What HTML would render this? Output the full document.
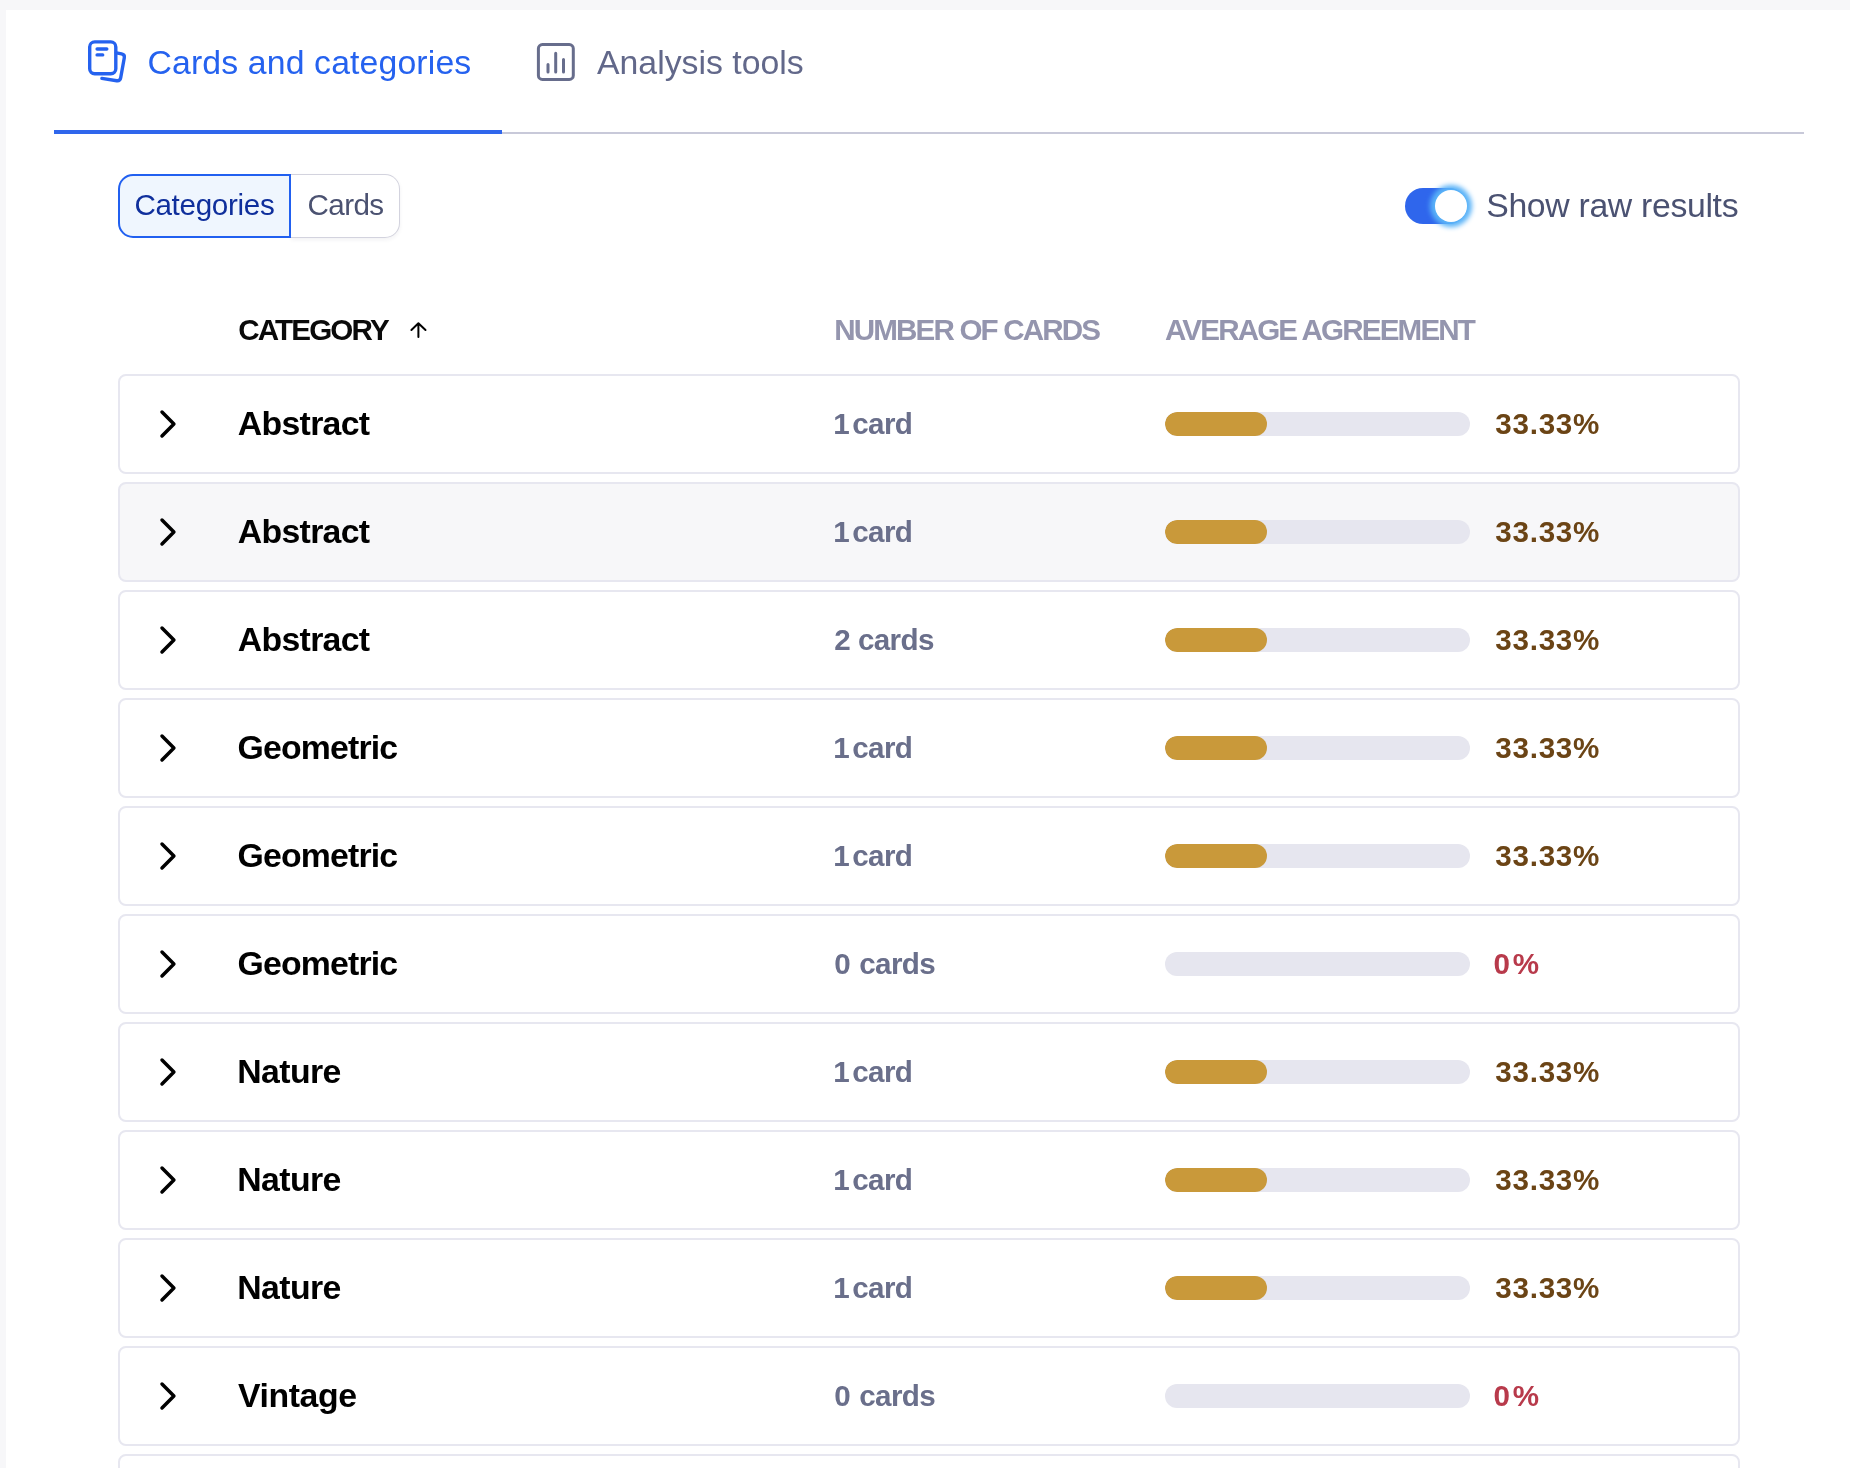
<!DOCTYPE html>
<html>
<head>
<meta charset="utf-8">
<style>
*{box-sizing:border-box;margin:0;padding:0}
html,body{width:1850px;height:1468px;overflow:hidden}
body{background:#f7f7f9;font-family:"Liberation Sans",Arial,sans-serif;position:relative}
.panel{position:absolute;left:6px;top:10px;width:1850px;height:1470px;background:#fff}
#wrap{position:absolute;left:0;top:0;width:1850px;height:1468px;will-change:transform}
.abs{position:absolute;white-space:nowrap;line-height:1}
.tab1{left:147.5px;top:45.7px;font-size:33.8px;color:#2562ef;letter-spacing:0.13px}
.tab2{left:597px;top:45.8px;font-size:33.8px;color:#62688a;letter-spacing:0px}
.tabline{position:absolute;left:502px;top:132px;width:1302px;height:2px;background:#c8c9d9}
.tabactive{position:absolute;left:54px;top:130px;width:448px;height:4px;background:#2f66ec}
.seg1{position:absolute;left:118px;top:174px;width:173px;height:64px;border:2px solid #2160f0;border-radius:15px 0 0 15px;background:#eff6fe}
.seg2{position:absolute;left:291px;top:174px;width:109px;height:64px;border:1px solid #d3d3de;border-left:none;border-radius:0 15px 15px 0;background:#fff;box-shadow:0 2px 4px rgba(30,30,60,0.06)}
.segt1{left:134.4px;top:190.4px;font-size:29.6px;color:#0f2f9c;letter-spacing:-0.31px}
.segt2{left:307.6px;top:190.4px;font-size:29.6px;color:#4b5271;letter-spacing:-0.6px}
.tog{position:absolute;left:1405px;top:188px;width:62px;height:36px;border-radius:18px;background:#2f66ec}
.knob{position:absolute;left:1435px;top:190px;width:32px;height:32px;border-radius:50%;background:#fff;box-shadow:0 0 5px 5px #5ab3f8}
.togt{left:1486.2px;top:188.7px;font-size:33.8px;color:#4b5272;letter-spacing:-0.33px}
.h{font-size:29.6px;font-weight:700;top:314.6px;letter-spacing:-1.84px}
.h1{left:238.2px;color:#0a0a0a}
.h2{left:834.2px;color:#9495ae}
.h3{left:1165px;color:#9495ae}
.row{position:absolute;left:118px;width:1622px;height:100px;border:2px solid #e7e7f0;border-radius:8px;background:#fff}
.row.hov{background:#f7f7f9}
.row .chev{position:absolute;left:30px;top:24px}
.row .name{position:absolute;left:118px;top:30.9px;font-size:33.8px;font-weight:700;color:#000;line-height:1;white-space:nowrap}
.row .cnt{position:absolute;left:0;top:32.6px;font-size:29.6px;font-weight:700;color:#6a6f8b;line-height:1;white-space:nowrap}
.row .cnt span{position:absolute;top:0}
.row .num{left:714.3px}
.row .wd{letter-spacing:-0.65px}
.row .track{position:absolute;left:1045px;top:36px;width:305px;height:24px;border-radius:12px;background:#e6e6ef;overflow:hidden}
.row .fill{position:absolute;left:0;top:0;width:102px;height:24px;border-radius:12px;background:#c9993a}
.row .pct{position:absolute;left:1375.3px;top:32.75px;font-size:29.6px;font-weight:700;color:#6b4415;line-height:1;white-space:nowrap;letter-spacing:0.74px}
.row .pct.z{color:#b83a4b;left:1373.6px;letter-spacing:2.7px}
</style>
</head>
<body>
<div id="wrap">
<div class="panel"></div>

<!-- tabs -->
<svg class="abs" style="left:80px;top:35px" width="55" height="55" viewBox="0 0 55 55" fill="none" stroke="#2562ef" stroke-width="3.4" stroke-linecap="round" stroke-linejoin="round">
  <rect x="9.7" y="6.9" width="26.1" height="31.9" rx="5"/>
  <path d="M17.1 14H26.8M17.1 19.9H22.7"/>
  <path d="M36.3 17.8L41.6 18.8Q44.9 19.4 44.3 22.7L40.7 42.8Q40.1 46.1 36.8 45.8L21.9 43.4"/>
</svg>
<div id="t1" class="abs tab1">Cards and categories</div>
<svg class="abs" style="left:530px;top:35px" width="55" height="55" viewBox="0 0 55 55" fill="none" stroke="#676d8c" stroke-width="3" stroke-linecap="round" stroke-linejoin="round">
  <rect x="8.4" y="9.6" width="34.9" height="34.8" rx="4"/>
  <path d="M18 29.5V36.9M25.7 18.2V36.9M33.5 24.5V36.9"/>
</svg>
<div id="t2" class="abs tab2">Analysis tools</div>
<div class="tabline"></div>
<div class="tabactive"></div>

<!-- segmented -->
<div class="seg2"></div>
<div class="seg1"></div>
<div id="s1" class="abs segt1">Categories</div>
<div id="s2" class="abs segt2">Cards</div>

<!-- toggle -->
<div class="tog"></div>
<div class="knob"></div>
<div id="tg" class="abs togt">Show raw results</div>

<!-- header -->
<div id="h1" class="abs h h1">CATEGORY</div>
<svg class="abs" style="left:400px;top:312px" width="40" height="36" viewBox="0 0 40 36" fill="none" stroke="#000" stroke-width="2" stroke-linecap="round" stroke-linejoin="round">
  <path d="M18.4 25V11.3M11.4 18L18.4 11.3L25.5 18"/>
</svg>
<div id="h2" class="abs h h2">NUMBER OF CARDS</div>
<div id="h3" class="abs h h3">AVERAGE AGREEMENT</div>

<!-- rows -->
<!--ROWS-->
<div id="r1" class="row" style="top:374px"><svg class="chev" width="40" height="48" viewBox="0 0 40 48" fill="none" stroke="#000" stroke-width="3.5" stroke-linecap="round" stroke-linejoin="round"><path d="M12 12L23.9 24L12 36"/></svg><div class="name" style="left:117.8px;letter-spacing:-0.69px">Abstract</div><div class="cnt"><span class="num" style="left:713.3px">1</span> <span class="wd" style="left:732.3px">card</span></div><div class="track"><div class="fill"></div></div><div class="pct">33.33%</div></div>
<div id="r2" class="row hov" style="top:482px"><svg class="chev" width="40" height="48" viewBox="0 0 40 48" fill="none" stroke="#000" stroke-width="3.5" stroke-linecap="round" stroke-linejoin="round"><path d="M12 12L23.9 24L12 36"/></svg><div class="name" style="left:117.8px;letter-spacing:-0.69px">Abstract</div><div class="cnt"><span class="num" style="left:713.3px">1</span> <span class="wd" style="left:732.3px">card</span></div><div class="track"><div class="fill"></div></div><div class="pct">33.33%</div></div>
<div id="r3" class="row" style="top:590px"><svg class="chev" width="40" height="48" viewBox="0 0 40 48" fill="none" stroke="#000" stroke-width="3.5" stroke-linecap="round" stroke-linejoin="round"><path d="M12 12L23.9 24L12 36"/></svg><div class="name" style="left:117.8px;letter-spacing:-0.69px">Abstract</div><div class="cnt"><span class="num" style="left:714.3px">2</span> <span class="wd" style="left:738.0px">cards</span></div><div class="track"><div class="fill"></div></div><div class="pct">33.33%</div></div>
<div id="r4" class="row" style="top:698px"><svg class="chev" width="40" height="48" viewBox="0 0 40 48" fill="none" stroke="#000" stroke-width="3.5" stroke-linecap="round" stroke-linejoin="round"><path d="M12 12L23.9 24L12 36"/></svg><div class="name" style="left:117.6px;letter-spacing:-0.83px">Geometric</div><div class="cnt"><span class="num" style="left:713.3px">1</span> <span class="wd" style="left:732.3px">card</span></div><div class="track"><div class="fill"></div></div><div class="pct">33.33%</div></div>
<div id="r5" class="row" style="top:806px"><svg class="chev" width="40" height="48" viewBox="0 0 40 48" fill="none" stroke="#000" stroke-width="3.5" stroke-linecap="round" stroke-linejoin="round"><path d="M12 12L23.9 24L12 36"/></svg><div class="name" style="left:117.6px;letter-spacing:-0.83px">Geometric</div><div class="cnt"><span class="num" style="left:713.3px">1</span> <span class="wd" style="left:732.3px">card</span></div><div class="track"><div class="fill"></div></div><div class="pct">33.33%</div></div>
<div id="r6" class="row" style="top:914px"><svg class="chev" width="40" height="48" viewBox="0 0 40 48" fill="none" stroke="#000" stroke-width="3.5" stroke-linecap="round" stroke-linejoin="round"><path d="M12 12L23.9 24L12 36"/></svg><div class="name" style="left:117.6px;letter-spacing:-0.83px">Geometric</div><div class="cnt"><span class="num" style="left:714.3px">0</span> <span class="wd" style="left:739.3px">cards</span></div><div class="track"></div><div class="pct z">0%</div></div>
<div id="r7" class="row" style="top:1022px"><svg class="chev" width="40" height="48" viewBox="0 0 40 48" fill="none" stroke="#000" stroke-width="3.5" stroke-linecap="round" stroke-linejoin="round"><path d="M12 12L23.9 24L12 36"/></svg><div class="name" style="left:117.2px;letter-spacing:-0.58px">Nature</div><div class="cnt"><span class="num" style="left:713.3px">1</span> <span class="wd" style="left:732.3px">card</span></div><div class="track"><div class="fill"></div></div><div class="pct">33.33%</div></div>
<div id="r8" class="row" style="top:1130px"><svg class="chev" width="40" height="48" viewBox="0 0 40 48" fill="none" stroke="#000" stroke-width="3.5" stroke-linecap="round" stroke-linejoin="round"><path d="M12 12L23.9 24L12 36"/></svg><div class="name" style="left:117.2px;letter-spacing:-0.58px">Nature</div><div class="cnt"><span class="num" style="left:713.3px">1</span> <span class="wd" style="left:732.3px">card</span></div><div class="track"><div class="fill"></div></div><div class="pct">33.33%</div></div>
<div id="r9" class="row" style="top:1238px"><svg class="chev" width="40" height="48" viewBox="0 0 40 48" fill="none" stroke="#000" stroke-width="3.5" stroke-linecap="round" stroke-linejoin="round"><path d="M12 12L23.9 24L12 36"/></svg><div class="name" style="left:117.2px;letter-spacing:-0.58px">Nature</div><div class="cnt"><span class="num" style="left:713.3px">1</span> <span class="wd" style="left:732.3px">card</span></div><div class="track"><div class="fill"></div></div><div class="pct">33.33%</div></div>
<div id="r10" class="row" style="top:1346px"><svg class="chev" width="40" height="48" viewBox="0 0 40 48" fill="none" stroke="#000" stroke-width="3.5" stroke-linecap="round" stroke-linejoin="round"><path d="M12 12L23.9 24L12 36"/></svg><div class="name" style="left:118.0px;letter-spacing:-0.42px">Vintage</div><div class="cnt"><span class="num" style="left:714.3px">0</span> <span class="wd" style="left:739.3px">cards</span></div><div class="track"></div><div class="pct z">0%</div></div>
<div id="r11" class="row" style="top:1454px"><svg class="chev" width="40" height="48" viewBox="0 0 40 48" fill="none" stroke="#000" stroke-width="3.5" stroke-linecap="round" stroke-linejoin="round"><path d="M12 12L23.9 24L12 36"/></svg><div class="name" style="left:118.0px;letter-spacing:-0.42px">Vintage</div><div class="cnt"><span class="num" style="left:714.3px">0</span> <span class="wd" style="left:739.3px">cards</span></div><div class="track"></div><div class="pct z">0%</div></div>
<!--/ROWS-->
</div>
</body>
</html>
